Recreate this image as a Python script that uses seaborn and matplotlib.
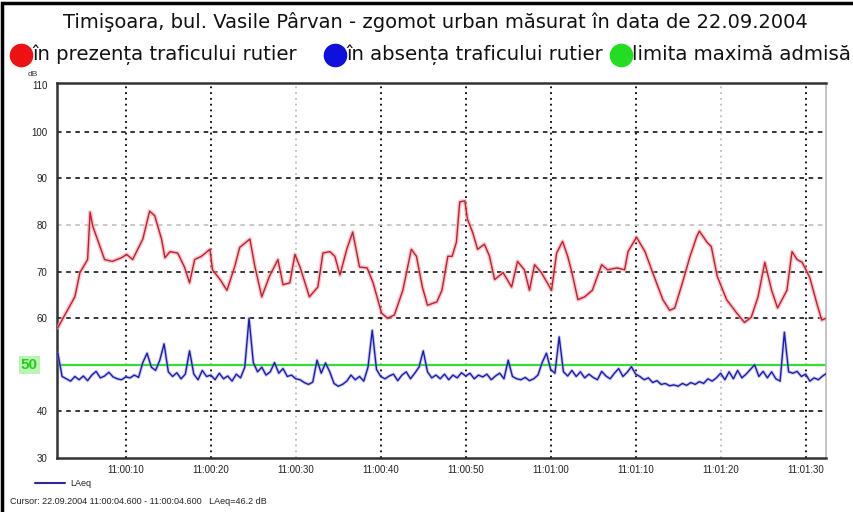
import numpy as np
import pandas as pd
import matplotlib
matplotlib.use("Agg")
import matplotlib.pyplot as plt
import seaborn as sns
from matplotlib.lines import Line2D
from matplotlib.patches import Rectangle

# ---------------- data ----------------
title = "Timişoara, bul. Vasile Pârvan - zgomot urban măsurat în data de 22.09.2004"
legend_labels = ["în prezența traficului rutier", "în absența traficului rutier", "limita maximă admisă"]
limit_db = 50

# traffic present (seconds after 11:00:00, dB)
red_t = [2.0, 4.0, 4.6, 5.5, 5.8, 6.1, 7.5, 8.4, 9.5, 10.1, 10.8, 12.0, 12.8, 13.4, 14.2, 14.6,
         15.2, 16.1, 16.9, 17.5, 18.1, 18.9, 19.9, 20.2, 21.1, 21.9, 22.8, 23.4, 24.6, 25.2,
         26.0, 26.9, 27.9, 28.5, 29.3, 29.9, 30.5, 31.6, 32.6, 33.2, 34.0, 34.6, 35.2, 36.0,
         36.7, 37.5, 38.4, 39.1, 40.1, 40.8, 41.6, 42.6, 43.6, 44.2, 44.9, 45.5, 46.6, 47.2,
         47.9, 48.4, 48.9, 49.3, 49.9, 50.2, 50.8, 51.4, 52.2, 52.8, 53.4, 54.4, 55.4, 56.1,
         56.9, 57.5, 58.1, 58.9, 59.6, 60.1, 60.7, 61.4, 62.0, 62.5, 63.2, 64.0, 64.9, 66.0,
         66.7, 67.8, 68.7, 69.1, 70.1, 71.1, 72.0, 73.2, 74.0, 74.6, 75.5, 76.4, 77.2, 77.5,
         78.4, 78.9, 79.6, 80.7, 81.9, 82.8, 83.6, 84.4, 85.2, 86.0, 86.7, 87.8, 88.4, 89.0,
         89.6, 90.5, 91.3, 91.9, 92.4]
red_db = [58.0, 64.6, 69.8, 72.6, 82.8, 79.8, 72.6, 72.2, 73.0, 73.7, 72.6, 77.0, 83.0, 82.0, 77.0, 73.0,
          74.3, 74.0, 71.0, 67.6, 72.6, 73.3, 74.8, 70.4, 68.3, 66.0, 71.0, 75.2, 77.0, 71.0,
          64.6, 69.0, 72.6, 67.2, 67.6, 73.7, 71.0, 64.6, 66.7, 74.0, 74.3, 73.3, 69.3, 74.8,
          78.5, 71.0, 70.8, 67.6, 61.1, 60.0, 60.7, 66.0, 74.8, 73.3, 66.7, 62.8, 63.5, 66.0,
          73.3, 73.3, 76.3, 85.0, 85.2, 81.3, 78.5, 74.8, 75.9, 73.3, 68.3, 69.8, 66.7, 72.2,
          70.4, 66.0, 71.5, 69.8, 67.6, 66.0, 74.0, 76.5, 73.3, 69.8, 64.0, 64.6, 66.0, 71.5,
          70.4, 70.8, 70.4, 74.3, 77.4, 74.3, 69.8, 64.0, 61.7, 62.2, 67.6, 73.3, 77.6, 78.7,
          76.3, 75.4, 69.0, 64.0, 61.1, 59.1, 60.2, 64.6, 72.0, 66.0, 62.2, 66.0, 74.3, 72.6,
          72.0, 68.7, 63.3, 59.6, 60.0]

# traffic absent, sampled every 0.5 s from 2.0 s
blue_db = [52.5, 47.5, 47.0, 46.5, 47.5, 46.8, 47.6, 46.6, 47.8, 48.6, 47.2, 47.6, 48.4, 47.4, 47.0, 46.8,
           47.4, 47.2, 47.8, 47.3, 50.5, 52.5, 49.5, 48.8, 51.0, 54.5, 48.5, 47.5, 48.3, 47.0, 48.0, 53.0,
           48.0, 46.8, 48.8, 47.5,
           47.8, 46.8, 48.2, 47.0, 47.6, 46.5, 48.0, 47.2, 49.5, 60.0, 50.5, 48.5, 49.5, 47.8, 48.5, 50.5,
           48.2, 49.2, 47.5, 47.8,
           47.0, 46.8, 46.2, 45.8, 46.3, 51.0, 48.2, 50.4, 48.5, 46.0, 45.4, 45.8, 46.5, 47.8, 46.8, 47.5,
           46.5, 49.5, 57.4, 49.0,
           47.5, 47.0, 47.6, 48.0, 46.6, 47.8, 48.5, 47.0, 48.2, 49.5, 53.0, 48.5, 47.2, 47.8,
           47.0, 48.0, 46.8, 47.8, 47.2, 48.3,
           47.6, 48.2, 47.0, 47.8, 47.4, 48.0, 46.8, 47.6, 48.2, 47.0, 51.0, 47.5, 47.0, 46.8, 47.3, 46.6,
           47.0, 47.8, 50.5, 52.5,
           49.0, 48.2, 56.0, 48.5, 47.6, 48.8, 47.5, 48.5, 47.2, 48.0, 47.3, 46.8, 48.6, 47.6, 47.0, 48.2,
           49.2, 47.5, 48.4, 49.6,
           48.0, 47.5, 46.8, 47.2, 46.2, 46.6, 45.8, 46.0, 45.5, 45.7, 45.4, 46.0, 45.6, 46.2, 45.8, 46.4,
           46.0, 47.0, 46.5, 47.2,
           48.2, 46.8, 48.5, 47.0, 48.8, 47.2, 48.0, 49.0, 50.0, 47.5, 48.6, 47.2, 48.5, 47.0, 46.5, 57.0,
           48.5, 48.2, 48.6, 47.5, 48.0, 46.5, 47.2, 46.8, 47.6, 48.2]
blue_t = [2.0 + 0.5 * i for i in range(len(blue_db))]

xtick_pos = [10, 20, 30, 40, 50, 60, 70, 80, 90]
xtick_labels = ["11:00:10", "11:00:20", "11:00:30", "11:00:40", "11:00:50",
                "11:01:00", "11:01:10", "11:01:20", "11:01:30"]
ytick_pos = [30, 40, 50, 60, 70, 80, 90, 100, 110]
light_x = [30, 80]
light_y = [80]

red_df = pd.DataFrame({"t": red_t, "dB": red_db})
blue_df = pd.DataFrame({"t": blue_t, "dB": blue_db})

# ---------------- figure ----------------
sns.set_style("white")
plt.rcParams["font.family"] = ["Liberation Sans", "DejaVu Sans"]

W, H = 854, 512
fig = plt.figure(figsize=(W / 100, H / 100), dpi=100)

def fx(x):
    return x / W

def fy(y):
    return 1 - y / H

ax = fig.add_axes([fx(57), fy(458), fx(826) - fx(57), fy(83) - fy(458)])

# grid lines
for v in xtick_pos:
    light = v in light_x
    ax.axvline(v, color="#bbbbbb" if light else "black", lw=1.3, ls=(0, (1, 2.2)), zorder=1)
for v in [40, 60, 70, 80, 90, 100]:
    light = v in light_y
    ax.axhline(v, color="#bbbbbb" if light else "black", lw=1.1, ls=(0, (3, 3)), zorder=1)

ax.axhline(limit_db, color="#33dd33", lw=1.6, zorder=2)

# halos
sns.lineplot(data=red_df, x="t", y="dB", ax=ax, color="#f6a3aa", lw=3.0, alpha=0.6, zorder=3)
sns.lineplot(data=blue_df, x="t", y="dB", ax=ax, color="#8a8aff", lw=2.4, alpha=0.45, zorder=3)
sns.lineplot(data=red_df, x="t", y="dB", ax=ax, color="#c01e2c", lw=1.0, zorder=4)
sns.lineplot(data=blue_df, x="t", y="dB", ax=ax, color="#1c1ca8", lw=1.0, zorder=4)

ax.set_xlim(1.9, 92.4)
ax.set_ylim(30, 110.5)
ax.set_xticks(xtick_pos)
ax.set_xticklabels(xtick_labels)
ax.set_yticks(ytick_pos)
ylabels = [str(v) for v in ytick_pos]
ylabels[ytick_pos.index(limit_db)] = ""
ax.set_yticklabels(ylabels)
ax.set_xlabel("")
ax.set_ylabel("")
ax.tick_params(axis="both", labelsize=7, length=4, width=1, color="#333333", pad=3,
               direction="out", labelcolor="#222222")
ax.tick_params(axis="x", length=0, pad=5)

for s in ["left", "bottom", "top"]:
    ax.spines[s].set_color("#333333")
    ax.spines[s].set_linewidth(1.8)
ax.spines["right"].set_color("#bbbbbb")
ax.spines["right"].set_linewidth(1.2)

# green "50" label
ax.text(-0.036, limit_db, "50", transform=ax.get_yaxis_transform(), ha="center", va="center",
        color="#22cc22", fontsize=11, fontweight="bold",
        bbox=dict(boxstyle="square,pad=0.15", fc="#b8f5b0", ec="none"))

fig.text(fx(33), fy(74), "dB", fontsize=6, ha="center", va="center", color="#333333")

# title
fig.text(fx(435), fy(22), title, ha="center", va="center", fontsize=14,
         color="#111111", family="DejaVu Sans")

# legend row
leg_colors = ["#ee1111", "#1010dd", "#22dd22"]
leg_x = [21, 335, 621]
for lx, col, lab in zip(leg_x, leg_colors, legend_labels):
    fig.add_artist(Line2D([fx(lx)], [fy(55)], marker="o", ms=16, color=col, mec=col,
                          transform=fig.transFigure))
    fig.text(fx(lx + 11), fy(55), lab, ha="left", va="center", fontsize=14.2,
             color="#111111", family="DejaVu Sans")

# bottom legend and cursor info
fig.add_artist(Line2D([fx(35), fx(65)], [fy(483), fy(483)], color="#2a2aa0", lw=1.5,
                      transform=fig.transFigure))
fig.text(fx(70), fy(483), "LAeq", fontsize=6.5, ha="left", va="center", color="#222222")
fig.text(fx(10), fy(502), "Cursor: 22.09.2004 11:00:04.600 - 11:00:04.600   LAeq=46.2 dB",
         fontsize=6.5, ha="left", va="center", color="#222222")

# outer frame (left and top visible)
fig.add_artist(Rectangle((fx(2), fy(520)), 1.2, fy(3) - fy(520), transform=fig.transFigure,
                         fill=False, ec="black", lw=2.5))

fig.savefig("out.png", dpi=100)
